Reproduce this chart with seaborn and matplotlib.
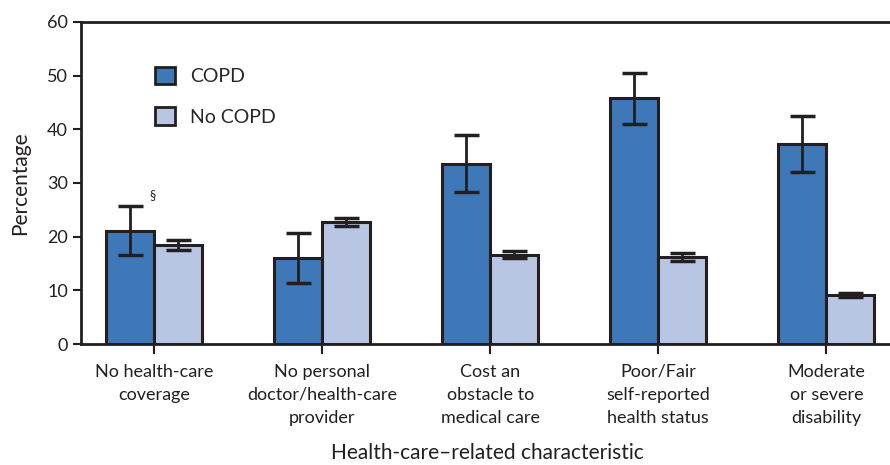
import matplotlib
matplotlib.use("Agg")
import matplotlib.pyplot as plt
import matplotlib.patches as mpatches
import pandas as pd
import seaborn as sns

# values
categories = ["No health-care\ncoverage",
              "No personal\ndoctor/health-care\nprovider",
              "Cost an\nobstacle to\nmedical care",
              "Poor/Fair\nself-reported\nhealth status",
              "Moderate\nor severe\ndisability"]
copd = [21.0, 16.0, 33.6, 45.8, 37.2]
copd_lo = [16.5, 11.3, 28.3, 40.9, 32.0]
copd_hi = [25.7, 20.6, 38.9, 50.4, 42.4]
no_copd = [18.4, 22.7, 16.6, 16.2, 9.1]
no_copd_lo = [17.5, 22.0, 16.0, 15.4, 8.7]
no_copd_hi = [19.3, 23.5, 17.3, 17.0, 9.5]
groups = ["COPD", "No COPD"]
colors = ["#3f78b9", "#b8c6e3"]

data = pd.DataFrame({
    "cat": categories * 2,
    "group": [groups[0]] * 5 + [groups[1]] * 5,
    "pct": copd + no_copd,
})

sns.set_style("white")
plt.rcParams['font.family'] = ['Lato', 'DejaVu Sans']

fig = plt.figure(figsize=(8.9, 4.65), dpi=100)
ax = fig.add_axes([0.091, 0.26, 0.913, 0.693])

sns.barplot(data=data, x="cat", y="pct", hue="group", palette=colors,
            saturation=1, width=0.57, edgecolor="#231f20", linewidth=2.2,
            errorbar=None, legend=False, ax=ax)

# error bars centred on each bar
lows = [copd_lo, no_copd_lo]
highs = [copd_hi, no_copd_hi]
vals = [copd, no_copd]
bar_sets = list(ax.containers)
for k, cont in enumerate(bar_sets):
    xs = [p.get_x() + p.get_width() / 2 for p in cont.patches]
    lo = [v - l for v, l in zip(vals[k], lows[k])]
    hi = [h - v for v, h in zip(vals[k], highs[k])]
    ax.errorbar(xs, vals[k], yerr=[lo, hi], fmt="none", ecolor="#231f20",
                elinewidth=2, capsize=9, capthick=2.5, zorder=5)

ax.text(-0.03, 26.6, "§", fontsize=9, ha="left", va="bottom", color="#231f20")

ax.set_ylim(0, 60)
ax.set_xlim(-0.435, 4.4)
ax.set_yticks(range(0, 61, 10))
ax.set_xticks(range(5))
ax.set_xticklabels(categories, fontsize=13, linespacing=1.55, color="#231f20")
ax.tick_params(axis="y", labelsize=13, labelcolor="#231f20", direction="out",
               length=6, width=1.5, color="#231f20", left=True)
ax.tick_params(axis="x", direction="out", length=7, width=1.5, color="#231f20",
               bottom=True, pad=7)
for s in ["left", "top", "bottom"]:
    ax.spines[s].set_color("#231f20")
    ax.spines[s].set_linewidth(2)
ax.spines["right"].set_visible(False)

ax.set_xlabel("Health-care–related characteristic", fontsize=15, labelpad=12,
              color="#231f20")
ax.set_ylabel("Percentage", fontsize=15, labelpad=12, color="#231f20")

handles = [mpatches.Patch(facecolor=c, edgecolor="#231f20", linewidth=2, label=g)
           for c, g in zip(colors, groups)]
ax.legend(handles=handles, loc="upper left", bbox_to_anchor=(0.07, 0.915),
          frameon=False, fontsize=14, handlelength=1.0, handleheight=1.0,
          labelspacing=1.15, handletextpad=0.8)

fig.savefig("out.png", dpi=100)
